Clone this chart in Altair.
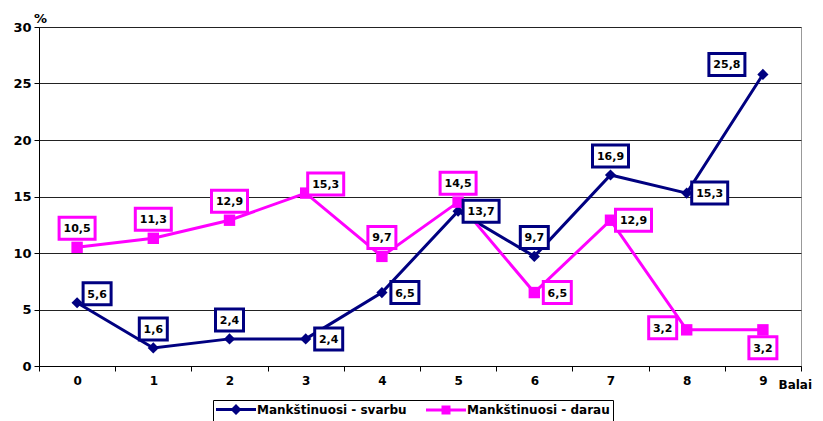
import altair as alt
import pandas as pd

# ---- data ----
categories = ["0", "1", "2", "3", "4", "5", "6", "7", "8", "9"]
svarbu = [5.6, 1.6, 2.4, 2.4, 6.5, 13.7, 9.7, 16.9, 15.3, 25.8]
darau = [10.5, 11.3, 12.9, 15.3, 9.7, 14.5, 6.5, 12.9, 3.2, 3.2]
series_names = ["Mankštinuosi - svarbu", "Mankštinuosi - darau"]
# where each value label sits relative to its point
svarbu_label_pos = ["upright", "up", "up", "right", "right", "right", "up", "up", "right", "upleft"]
darau_label_pos = ["up", "up", "up", "upright", "up", "up", "right", "right", "left", "down"]
y_ticks = [0, 5, 10, 15, 20, 25, 30]

# ---- styles ----
COLORS = ["#000080", "#FF00FF"]
OFFSETS = {
    "up": (0, -19),
    "down": (0, 18),
    "right": (23, 0),
    "left": (-24, -2),
    "upright": (20, -9),
    "upleft": (-36, -10),
}
BOXES = {"long": "M-18,-11H18V11H-18Z", "short": "M-14,-11H14V11H-14Z"}
FONT = "DejaVu Sans"

rows = []
for name, col, vals, poss in [(series_names[0], COLORS[0], svarbu, svarbu_label_pos),
                              (series_names[1], COLORS[1], darau, darau_label_pos)]:
    for c, v, p in zip(categories, vals, poss):
        lab = f"{v:.1f}".replace(".", ",")
        rows.append({"cat": c, "value": v, "series": name, "col": col, "pos": p,
                     "label": lab, "box": "long" if len(lab) > 3 else "short"})
df = pd.DataFrame(rows)

x_enc = alt.X("cat:N", sort=categories,
              scale=alt.Scale(type="band", paddingInner=0, paddingOuter=0),
              axis=alt.Axis(tickBand="extent", labelAngle=0, title="Balai",
                            titleX=739, titleY=22, titleAlign="left",
                            titleBaseline="alphabetic", titleAnchor="start",
                            titleFontSize=12, labelPadding=4, tickSize=5))
y_enc = alt.Y("value:Q", scale=alt.Scale(domain=[0, 30]),
              axis=alt.Axis(values=y_ticks, title="%", titleAngle=0,
                            titleX=1, titleY=-5, titleAlign="center",
                            titleBaseline="alphabetic", titleAnchor="start",
                            labelPadding=3, tickSize=5, grid=True, labelFontSize=13))

base = alt.Chart(df)

lines = base.mark_line(strokeWidth=3).encode(
    x=x_enc, y=y_enc, detail="series:N",
    stroke=alt.Stroke("col:N", scale=None),
)

pts_blue = base.transform_filter(alt.datum.series == series_names[0]).mark_point(
    filled=True, opacity=1, size=125, shape="diamond").encode(
    x=x_enc, y=y_enc, fill=alt.Fill("col:N", scale=None))
pts_pink = base.transform_filter(alt.datum.series == series_names[1]).mark_point(
    filled=True, opacity=1, size=130, shape="square").encode(
    x=x_enc, y=y_enc, fill=alt.Fill("col:N", scale=None))

label_layers = []
for code, (dx, dy) in OFFSETS.items():
    for bkey, bpath in BOXES.items():
        sub = base.transform_filter((alt.datum.pos == code) & (alt.datum.box == bkey))
        label_layers.append(sub.mark_point(
            filled=False, fill="white", fillOpacity=1, opacity=1, shape=bpath,
            strokeWidth=3, size=4, xOffset=dx, yOffset=dy).encode(
            x=x_enc, y=y_enc, stroke=alt.Stroke("col:N", scale=None),
        ))
for code, (dx, dy) in OFFSETS.items():
    sub = base.transform_filter(alt.datum.pos == code)
    label_layers.append(sub.mark_text(
        font=FONT, fontWeight="bold", fontSize=11, color="black",
        dx=dx, dy=dy + 1).encode(x=x_enc, y=y_enc, text="label:N"))

# legend symbols: a filled bar (the line) with the series marker in its middle
legend_paths = ["M-1.3,-0.28H6.7V0.28H-1.3ZM1.6,0L2.7,-1.1L3.8,0L2.7,1.1Z",
                "M-1.3,-0.28H6.7V0.28H-1.3ZM1.8,-0.9H3.6V0.9H1.8Z"]
leg = dict(orient="none", legendX=174, legendY=373, direction="horizontal", title=None)
legend_layer = base.transform_filter("false").mark_point(
    filled=True, opacity=1, size=100, strokeWidth=2.5).encode(
    x=x_enc, y=y_enc,
    color=alt.Color("series:N", scale=alt.Scale(domain=series_names, range=COLORS),
                    legend=alt.Legend(**leg)),
    shape=alt.Shape("series:N", scale=alt.Scale(domain=series_names, range=legend_paths),
                    legend=alt.Legend(**leg)),
)

chart = alt.layer(lines, pts_blue, pts_pink, *label_layers, legend_layer).properties(
    width=762, height=339,
    autosize=alt.AutoSizeParams(type="none"),
    padding={"left": 31, "top": 19, "right": 14, "bottom": 55},
).configure(font=FONT).configure_view(stroke="#999999").configure_axis(
    labelFont=FONT, labelFontWeight="bold", labelFontSize=12, labelColor="black",
    titleFont=FONT, titleFontWeight="bold", titleFontSize=13, titleColor="black",
    domainColor="black", tickColor="black", gridColor="#222222", gridOpacity=1,
).configure_axisX(grid=False).configure_legend(
    labelFont=FONT, labelFontWeight="bold", labelFontSize=12, labelColor="black",
    strokeColor="black", padding=3, symbolSize=100, symbolStrokeWidth=2.5,
    symbolOpacity=1, labelOffset=28, columnPadding=14,
)

chart.save("out.html", embed_options={"renderer": "svg", "actions": False})
